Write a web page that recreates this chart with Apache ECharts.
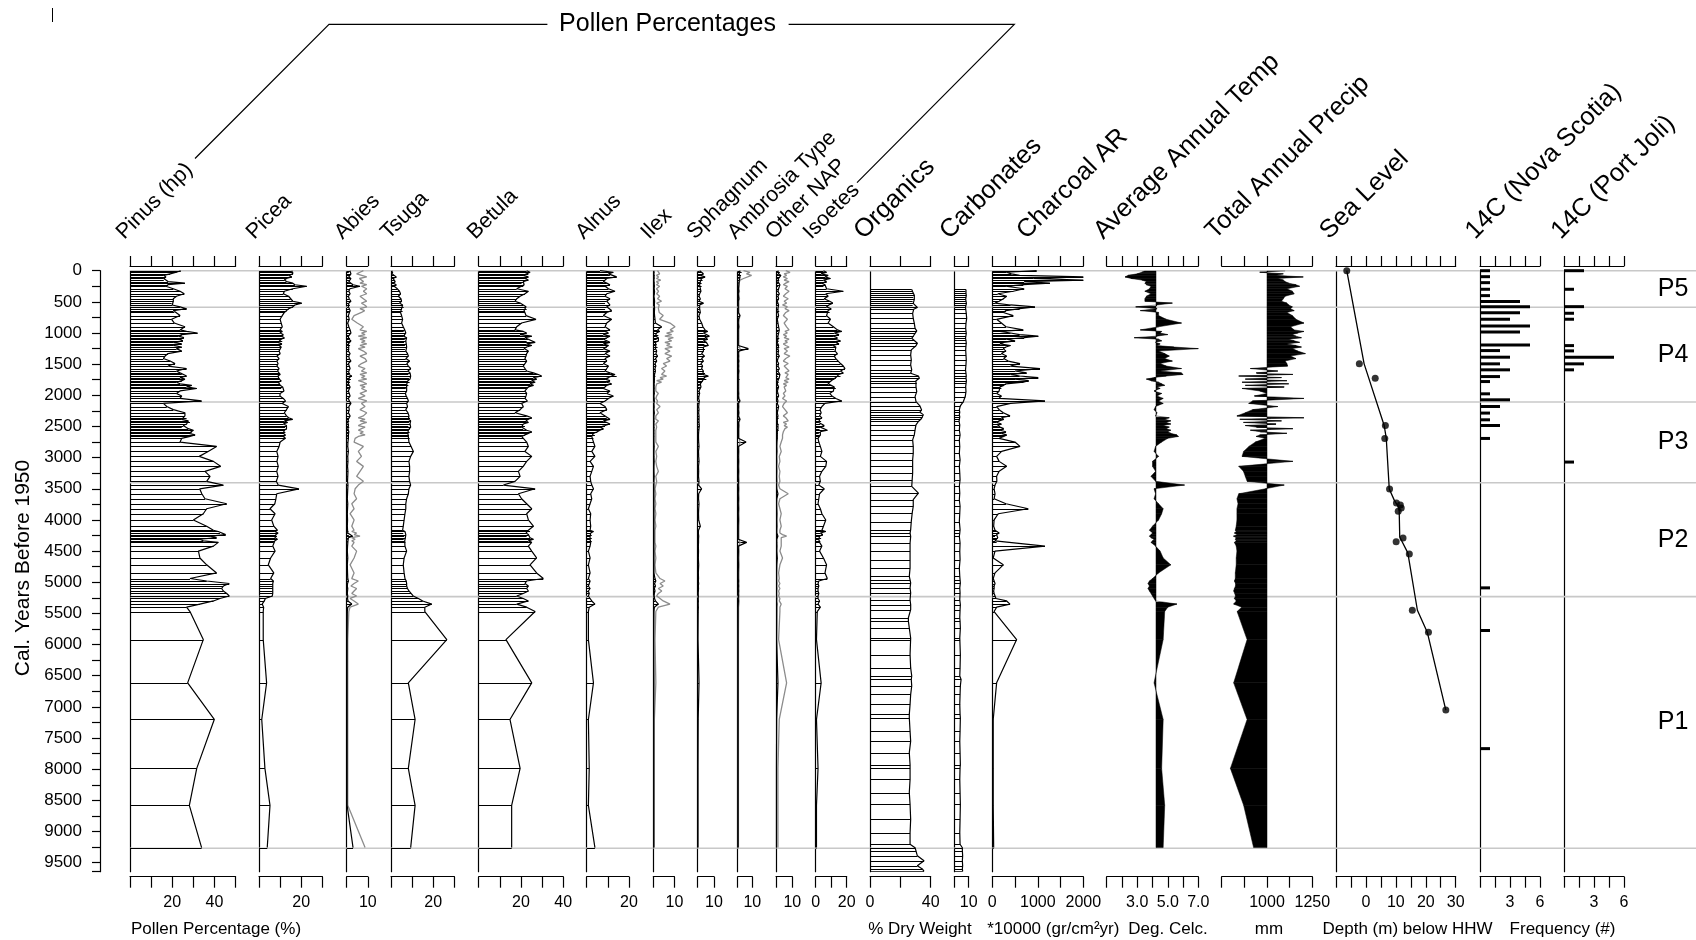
<!DOCTYPE html>
<html>
<head>
<meta charset="utf-8">
<title>Pollen, sediment and climate stratigraphy</title>
<script src="https://cdn.jsdelivr.net/npm/echarts@6/dist/echarts.min.js"></script>
<style>
  html, body { margin: 0; padding: 0; background: #ffffff; }
  #chart { width: 1696px; height: 940px; }
</style>
</head>
<body>
<div id="chart"></div>
<script>
// ---------------------------------------------------------------------------
// Sample ages (cal. years BP) shared by the pollen, charcoal and climate records
// ---------------------------------------------------------------------------
const ages = [
  0,25,50,75,100,125,150,175,200,225,250,
  290,330,370,410,450,490,520,550,580,610,640,670,
  720,780,840,900,
  950,975,1000,1025,1050,1075,1100,1125,1150,1175,1200,1225,1250,
  1290,1330,1370,1410,1450,1490,1530,1570,1610,
  1640,1665,1690,1715,1740,1765,1790,1815,1840,1865,1890,
  1930,1970,2010,2050,2090,2130,2180,2230,2280,2330,
  2360,2385,2410,2435,2460,2485,2510,2535,2560,2585,2610,2635,2660,2690,
  2750,2820,2900,2980,3060,3140,3220,3300,3380,3440,3500,3580,3660,3740,3820,3900,4000,4100,
  4165,4185,4210,4235,4260,4285,4310,4335,4360,
  4420,4500,4610,4720,4850,
  4940,4980,5020,5060,5100,5140,5180,5220,5260,5300,
  5350,5400,5470,
  5920,6614,7202,7987,8580,9258
];

// Pollen percentages
const pinus = [
  24,22,19,16,17,16,16,18,26,18,17,
  20.5,23.7,25.7,22,20.5,20.5,19.7,20,23.7,26.8,20.5,21,
  23.7,19.7,21,26,
  23.7,26.8,32,24.5,22.9,25.5,23.7,25,20.5,24.5,20.5,24.5,22,
  24.5,18,16.6,15.8,19,21.3,18,26.8,22,
  23.7,24.5,26.8,23.7,26,24.5,22,23.7,29.2,26.8,31.6,
  23.7,22,24.5,23.7,33.9,15.8,17.4,20.5,26,26,
  26.8,24.5,27.6,28.4,26.8,25.2,24.5,27.6,30,29.2,28,30.8,28.4,24.5,
  23.7,41,37,32.8,39.5,42.9,35.5,37.9,36.3,44.2,33,34,35.5,45.8,36.3,34.7,30,36.3,
  39.5,41.8,42.6,45.3,37.9,41,33.1,34.7,41.8,
  39.5,32.4,33.1,36.3,41,
  28.4,36.3,47,44.2,43.4,44.2,45.8,47,42.6,39.5,
  33.1,26.8,28.4,
  34.7,27.3,39.9,31.6,28.1,33.9
];
const picea = [
  15.5,16.2,16,14,15.5,13,12,13,16,17,22.6,
  16,12,11.5,14,15,16,20.2,17,16,14,13,12,
  11,10,10.5,11,
  10,11,9.9,11.5,10.5,12,10.5,11,9,10.8,9.5,10.5,10,
  9.5,10,8.5,9.5,8.4,9,8.5,9.5,8.8,
  9.5,10,9,9.8,9.5,10.5,9.2,10,10,11.2,10.5,
  11.8,10,9.9,11.5,12.5,11,13.9,13,12,13,
  14,15.9,12,13.5,11.5,13,12.3,13,12,12.5,11.5,12.5,11.5,12.5,
  10,9.5,8.4,9,8.5,9.1,8.4,9,8.2,9.1,18.9,8.4,8,7.5,5.2,7.6,6,7,
  8.7,7.5,9,8,8.5,7.6,8.7,7.5,7,
  6.5,7.6,5.5,4.4,7,
  5.5,6.8,6.5,6.5,6.5,6.5,6.5,6.3,3,2.5,
  1.5,2.2,2,
  2,3.6,1.3,2.8,5.2,3.9
];
const abies = [
  1.5,1,2,1.5,1,2,1.5,1,2,3,6.3,
  1.5,1,1.6,0.8,1.2,2,1,1.5,0.8,1.2,1.6,1,
  0.8,1.2,0.5,1,
  1.6,0.8,2,1.2,0.8,1.6,1,2,1.2,0.8,1.6,1,1.2,
  0.8,1.6,1,1.2,2,0.8,1.2,1.6,1,
  1.6,1,2.4,1.2,2,1,1.6,0.8,1.2,1.6,1,
  0.8,1.2,1.6,0.8,1.2,2,1,1.2,0.8,1.6,
  1,0.8,1.2,0.6,1,0.8,1.2,0.6,0.8,1,0.6,0.8,0.5,0.8,
  0.6,0.5,0.8,0.5,0.6,0.4,0.6,0.5,0.4,0.6,0.5,0.4,0.3,0.5,0.4,0.3,0.4,0.3,
  0.4,0.8,0.5,1,2.8,0.8,0.5,0.6,0.4,
  0.4,0.3,0.5,0.3,0.4,
  0.5,0.8,0.4,0.3,0.5,0.4,0.3,0.5,0.4,0.6,
  2.4,0.5,0.3,
  0.2,0.2,0.2,0.2,0.2,3
];
// exaggerated (grey) Abies curve
const abiesExag = [
  7.9,6.3,4.7,5.5,9.5,6,5.5,8,6.3,9.5,7,
  9.5,7.9,9.5,6.3,7.9,9.5,7,8.5,9.5,6.3,8.5,7,
  3.5,2.4,5,7.9,
  6.3,9.5,7,8.7,5.5,9.5,6.3,8.7,7,9.5,6.3,8.7,5.5,
  7.9,9.5,6.3,8.7,9.5,7,5.5,8.7,7,
  9.5,6.3,8.7,7,9.5,5.5,7.9,9.5,6.3,8.7,7,
  9.5,6.3,8.7,5.5,9.5,7,8.7,6.3,9.5,7.9,
  5.5,8.7,6.3,9.5,7,5.5,8.7,7,5.5,7.9,6.3,8.7,5.5,4,
  3.5,7.9,5.5,7,4.7,7.9,6.3,4.7,7.9,5.5,4,3.5,4.7,2.4,3.5,1.6,3.5,2.4,
  3.5,2.4,4.7,3.5,6.3,2.4,4,2.4,3.5,
  2.4,4.7,3.5,1.6,3.5,
  2.4,5.5,3.5,2,4.7,3.5,2.4,4.7,1.6,3.5,
  5.5,1.6,1,
  0.5,0.5,0.5,0.5,0.5,8.7
];
const tsuga = [
  0.5,1,0.5,1.5,2.5,1,1.5,2,1,2.5,1.5,
  3,4,4.5,3.5,4.7,5,4,5.5,6,5,5.5,4.5,
  5,5.5,5,5.8,
  6.5,6,7,6.6,6,7.4,6.5,7,6.2,7.2,6.6,7.4,6.6,
  7,7.8,8.2,7,8.8,7.5,8.2,9.3,8,
  9,8.2,9.3,8.5,9,8,8.8,7.5,8.2,7.4,7,
  7.4,6.8,7.2,7.8,8.2,7.4,7.8,7,8,8.5,
  9,8.2,9.3,8.5,9,8.2,9.3,8.8,8.2,8.8,8,8.5,8.2,8.8,
  8.5,9.5,10.6,9.3,8.5,8.8,8.8,8.5,8.8,9.3,8.5,8.2,7.4,7,7,6.6,6.2,5.8,
  5.5,6.6,5.8,7,6.2,6.8,6,6.5,6.8,
  6.6,7.4,6.2,5.8,6.2,
  6.6,7.2,7.4,7.4,7.8,8.5,9.5,10.5,13,15,
  19.3,16,16,
  26.4,8.2,11.4,8.2,11.4,9.3
];
const betula = [
  22.7,24.3,23.5,21.1,23.5,21.9,23.5,21.1,20.3,21.5,21.1,
  18,23.5,21.9,19.6,18,17.2,19.6,21.1,22.4,22.7,21.5,21.9,
  22.4,27.1,20.3,18,
  17.2,21.1,22.7,19.6,25.1,21.9,23.5,22.7,26.7,22.7,25.1,22.7,21.5,
  23.5,22.7,22.4,21.9,22.7,21.9,21.1,21.9,22.7,
  25.9,28.2,29.8,25.9,27.4,25.1,26.7,24.3,25.9,23.5,22.7,
  21.9,22.7,22.4,21.9,23,20.3,21.1,19.6,17.2,22.7,
  25.1,23.5,22.4,23.5,21.1,21.9,20.3,21.1,22.7,25.1,23.5,21.9,20.3,21.1,
  22.7,23.5,21.9,25.1,22.7,21.1,18.8,19.6,17.2,11.7,26.7,18.8,20.3,22.7,25.1,22.7,23.5,25.9,
  23.5,24.3,22.4,23.5,22.7,24.3,25.9,23.5,25.1,
  23.5,25.1,27.4,24.3,27.4,
  30.6,22.7,21.9,23.5,22.7,23.5,21.1,18,21.1,23.5,
  18,22.7,26.7,
  12.9,25.1,14.8,19.6,15.6,15.6
];
const alnus = [
  6.3,12.6,10.3,11,14.2,9.5,8.7,7.9,9.5,11,8.7,
  10.3,13.4,9.5,8.7,11,9.5,8.7,11,9.5,8.7,11.8,9.5,
  7.9,11.8,9.5,8.7,
  11,8.7,10.3,7.9,11,9.5,7.9,9.5,11,7.9,10.3,9.5,8,
  11,8.7,11,8.7,9.5,7.9,10.3,9.5,8.7,
  11,13.4,14.2,10.3,8.7,11,9.5,11.8,9.5,8.7,7.9,
  11,9.5,12.6,10.3,8.7,6.3,8.7,9.5,6.3,8.7,
  9.5,11,7.9,9.5,11,8.7,6.3,7.9,6.3,5,3.2,3.9,2.4,3.2,
  3.2,3.9,2.4,3.9,1.6,3.2,2.4,1.6,1.9,2.4,3.2,1.9,2.4,1.6,0.8,1.9,1.6,1.9,
  1.6,3.2,1.9,2.4,1.6,2.4,1.6,2.4,1.9,
  1.6,0.8,1.6,0.8,1.6,
  0.8,1.6,1.2,0.8,1.6,0.8,1.2,0.8,1.6,2.4,
  3.9,1.2,0.8,
  0.8,3.2,0.8,1.2,0.8,3.9
];
const ilex = [
  0.3,0.5,0.3,0.6,0.4,0.5,0.3,0.5,0.4,0.6,0.5,
  0.4,0.6,0.5,0.3,0.5,0.6,0.4,0.5,0.3,0.6,0.4,0.5,
  0.6,0.8,1,3.9,
  2,3,1.5,2.4,1,2.4,1.6,2.4,1,1.6,1.2,2,1,
  1.6,1.2,2,1,1.6,0.8,1.2,0.8,1,
  0.8,0.6,1,0.5,0.8,0.5,0.6,0.4,0.5,0.4,0.5,
  0.4,0.5,0.3,0.4,0.5,0.3,0.4,0.3,0.5,0.3,
  0.4,0.3,0.5,0.3,0.4,0.3,0.5,0.3,0.4,0.3,0.4,0.3,0.4,0.3,
  0.3,0.4,0.3,0.3,0.4,0.3,0.3,0.4,0.3,0.3,0.3,0.3,0.3,0.3,0.3,0.3,0.3,0.3,
  0.3,0.3,0.3,0.3,0.3,0.3,0.3,0.3,0.3,
  0.3,0.3,0.3,0.3,0.3,
  0.8,1.2,0.6,1,0.5,0.8,0.5,0.4,0.6,1,
  2.4,0.5,0.3,
  0.2,0.3,0.2,0.2,0.2,0.2
];
// exaggerated (grey) Ilex curve
const ilexExag = [
  2,1.5,3,1.5,2.5,1.5,3.5,1.5,2.5,1.5,3,
  1.5,2.5,1.6,3,2,3.9,1.6,2.8,3.5,2.4,1.6,2.8,
  4.7,3,7.9,10.3,
  8,9.5,6.3,8.7,5.5,9.5,7,8.7,5.5,7.9,6.3,9,5.5,
  7.9,5.5,8.7,6.3,7.9,4.7,6.3,3.9,5.5,
  5.5,3.9,6.3,3.2,4.7,1.6,3.9,1.6,2.4,1.2,1.6,
  1.2,2.4,1.6,1.2,2,1.6,3.2,1.6,2.4,1.2,
  1.6,1.2,2.4,1.6,1.2,2,1.6,2.4,1.2,1.6,1.2,2,1.2,1.6,
  1.2,2.4,1.2,1.6,1.2,1.6,2.4,1.2,1.6,1.2,0.8,1.2,0.8,1.2,0.8,1.2,0.8,1.2,
  0.8,1.2,0.8,1.2,0.8,1.2,0.8,1.2,0.8,
  1.2,0.8,1.2,0.8,1.2,
  3.2,5.5,3.2,4.7,2.4,4,2.4,1.6,3.2,4.7,
  7.9,2.4,1.2,
  0.8,1.2,0.5,0.5,0.5,0.5
];
const sphagnum = [
  1.2,2.4,3.5,1.6,4.5,2.4,3,1.6,2.4,1.2,2.4,
  1.6,2,1.2,0.8,1.6,0.8,3.5,1.2,0.8,1.2,0.8,1.6,
  0.8,1.2,2.4,3.2,
  4.5,6.1,3.5,5.3,7.1,4.5,6.1,3.5,5.3,4.1,6.5,3.5,4.5,
  3.5,2.4,4.1,2.4,3.5,2,3,2.4,3.5,
  4.5,3,6.5,4.1,5.3,3,2.4,1.6,1.2,2,1.2,
  0.8,1.2,0.8,0.6,1,0.8,0.6,0.8,0.6,0.8,
  0.6,0.8,0.5,0.8,0.6,1,0.6,0.8,0.5,0.6,0.8,0.5,0.6,0.5,
  0.6,0.8,0.5,0.6,0.8,0.5,0.6,0.5,0.8,0.6,2.4,0.6,0.5,0.8,0.6,0.5,0.6,1.6,
  0.5,0.6,0.4,0.5,0.6,0.4,0.5,0.4,0.5,
  0.4,0.5,0.4,0.6,0.4,
  0.5,0.4,0.6,0.4,0.5,0.4,0.3,0.4,0.3,0.4,
  0.3,0.4,0.3,
  0.2,0.8,0.3,0.2,0.2,0.2
];
const ambrosia = [
  1.6,2.7,1.1,2.3,1.6,0.7,1.1,0.7,0.9,0.5,0.7,
  0.5,0.7,0.4,0.5,0.7,0.4,0.5,0.4,0.6,0.4,0.5,0.4,
  1.5,0.5,0.4,0.6,
  0.4,0.6,0.4,0.5,0.4,0.6,0.4,0.5,0.4,0.6,0.4,0.5,7.3,
  0.6,0.4,0.5,0.4,0.6,0.4,0.5,0.4,0.6,
  0.5,0.4,0.6,0.4,1.5,0.4,0.5,0.4,0.6,0.4,0.5,
  0.4,0.5,0.4,0.6,1.5,0.4,0.5,0.4,0.6,0.4,
  0.5,1.5,0.4,0.5,0.4,0.6,0.4,0.5,0.4,0.5,0.4,0.5,0.4,0.5,
  5.7,0.4,0.5,0.4,0.5,0.4,0.5,0.4,0.5,0.4,0.5,0.4,0.5,0.4,0.5,0.4,0.5,0.4,
  0.4,0.5,0.4,0.5,0.4,0.5,0.4,0.5,6.1,
  0.4,0.5,0.4,0.5,0.4,
  0.4,0.5,0.4,0.5,0.4,0.5,0.4,0.5,0.4,0.5,
  0.4,0.3,0.3,
  0.3,0.3,0.3,0.3,0.3,0.3
];
// exaggerated (grey) Ambrosia curve
const ambrosiaExag = [
  4,8.4,6,9.5,9.5,4,1.6,1.1,0.9,1.2,0.9,
  0.9,1.2,0.8,1,1.2,0.8,1,0.8,1.1,0.8,1,0.8,
  1.6,1,0.8,1.1,
  0.8,1.1,0.8,1,0.8,1.1,0.8,1,0.8,1.1,0.8,1,1.6,
  1.1,0.8,1,0.8,1.1,0.8,1,0.8,1.1,
  1,0.8,1.1,0.8,1.6,0.8,1,0.8,1.1,0.8,1,
  0.8,1,0.8,1.1,1.6,0.8,1,0.8,1.1,0.8,
  1,1.6,0.8,1,0.8,1.1,0.8,1,0.8,1,0.8,1,0.8,1,
  1.6,0.8,1,0.8,1,0.8,1,0.8,1,0.8,1,0.8,1,0.8,1,0.8,1,0.8,
  0.8,1,0.8,1,0.8,1,0.8,1,1.6,
  0.8,1,0.8,1,0.8,
  0.8,1,0.8,1,0.8,1,0.8,1,0.8,1,
  0.8,0.6,0.6,
  0.5,0.5,0.5,0.5,0.5,0.5
];
const otherNap = [
  1.2,2.4,1.6,3,2.4,1.6,2,1.2,1.6,2.4,1.2,
  1.6,1.2,2,1.2,1.6,0.8,1.2,1.6,0.8,1.2,2,1.2,
  1.6,0.8,1.2,1.6,
  2,1.2,1.6,0.8,1.2,2,1.2,1.6,0.8,1.2,1.6,2,1.2,
  1.6,1.2,2,1.2,0.8,1.6,1.2,2,1.2,
  1.6,2.4,1.2,2,1.6,1.2,1.6,0.8,1.2,1.6,1.2,
  0.8,1.2,1.6,0.8,1.2,0.8,1.6,1.2,0.8,1.2,
  1.6,0.8,1.2,0.8,1.6,1.2,0.8,1.2,1.6,0.8,1.2,0.8,0.6,0.8,
  0.6,0.5,0.6,0.4,0.5,0.4,0.5,0.4,0.5,0.4,0.5,1.2,0.5,0.4,0.5,0.6,0.5,0.6,
  0.5,0.6,0.5,0.8,1.2,0.6,0.5,0.6,0.5,
  0.6,0.5,0.8,0.5,0.4,
  0.4,0.4,0.5,0.4,0.5,0.4,0.4,0.4,0.5,0.4,
  0.6,0.5,0.5,
  0.4,1.2,0.4,0.3,0.3,0.3
];
// exaggerated (grey) Other NAP curve
const otherNapExag = [
  6,8.6,5,6.5,4.5,7,5,8,6,4.5,7,
  5.5,8,6,4.5,7.5,5,6.5,4,7,5.5,8,6,
  4.5,7,5,6.5,
  8,5.5,7,4.5,6.5,5,8,5.5,7,4.5,6,8,5,
  7,5,8.5,6,4.5,7.5,5,6.5,8,
  5.5,7.5,8.6,6,8,5,7.5,4.5,6.5,5,4,
  6,4.5,5.5,4,6.5,5,4,5.5,7,4.5,
  6,5,7.5,4.5,6.5,5,7,5.5,6.5,4.5,5.5,4,3.2,4,
  3.2,2.4,3.2,2,2.4,1.6,2.4,2,2.4,1.6,2.4,7.5,2.4,1.6,2.4,3.2,2.4,3.2,
  2.4,3.2,2.4,4,6.5,3.2,2.4,3.2,2.4,
  3.2,2.4,4,2.4,1.6,
  2,1.6,2.4,1.6,2.4,1.6,2,1.6,2.4,2,
  3.2,2.4,2.4,
  1.6,6.5,2,1.2,1.2,1.2
];
const isoetes = [
  5,7,3.5,8,6,9.5,5,7,4,6,5,
  7,17.8,6.5,8,5.5,9,11,8.5,7,10,8,9,
  7,9.5,8,11.4,
  14,16.8,12,15,11.4,14,12.5,16,13,15,11,13,12,
  12.5,14,12,13,14.5,16,17.8,18.9,16,
  17.8,15,16,13,12,10,9,8,10,12,13,
  11.4,9,10.5,13,16.8,6,4,2.8,3.5,2.5,
  4,2.5,3.5,2,3,5.5,3,2.5,7.5,3,2,3,2.5,1.5,
  2,3,4,3,7,6.5,4,2.5,3,2,5.5,2.5,2,1.5,3,4,6.5,5,
  4,6.5,3,4.5,2.5,3.5,2,3,2.5,
  4,2.5,5,7,6,
  7.5,2,1.5,2,1.5,1.5,2,1.5,1.5,2.5,
  1.5,3,1,
  0.5,3.5,0.5,1.5,0.5,0.5
];

// Charcoal accumulation rate (*10000 gr/cm2/yr)
const charcoal = [
  975,315,420,600,2000,900,2000,700,1267,681,300,
  700,461,120,315,242,150,60,400,938,600,300,242,
  461,95,200,300,
  681,170,400,600,1011,700,315,500,250,170,400,300,242,
  300,200,315,250,350,608,400,1048,500,
  755,400,600,1011,500,800,681,300,250,170,200,
  150,95,200,150,1158,400,95,150,242,388,
  200,250,150,95,200,120,170,250,170,300,200,315,250,150,
  498,608,205,95,150,315,150,95,100,60,40,60,40,300,791,130,40,30,
  60,95,150,95,60,120,95,60,95,
  1158,60,20,242,60,
  20,40,60,40,40,30,40,60,80,315,
  388,95,40,
  535,95,20,20,20,30
];

// Pollen-inferred climate
const temperature = [
  3.5,3.3,3.0,2.4,2.2,2.6,3.3,3.6,3.5,3.6,3.9,
  3.8,3.5,3.9,3.6,3.5,3.5,5.3,4.3,2.9,4.3,3.2,4.4,
  4.4,4.9,5.9,4.4,
  3.2,4.6,4.5,5.0,4.3,2.8,4.4,4.6,4.2,4.5,4.3,5.4,7.0,
  4.4,4.8,5.1,4.8,5.3,4.5,4.9,5.9,4.5,
  5.9,6.0,4.9,4.1,3.6,3.9,4.4,4.6,4.8,4.3,4.5,
  4.1,4.6,4.3,4.7,4.4,4.7,4.2,4.1,4.3,4.2,
  5.1,4.8,5.2,4.9,5.2,4.7,5.1,4.9,5.2,5.0,5.2,5.6,5.7,5.0,
  4.6,4.2,4.1,4.4,4.0,4.0,4.2,3.9,4.2,6.1,4.1,4.2,4.1,4.4,4.7,4.6,4.4,4.0,
  3.8,3.9,4.0,3.9,3.8,3.9,4.1,4.0,3.9,
  4.2,4.5,4.7,5.2,4.4,
  4.0,3.8,3.7,3.8,3.7,3.8,3.9,4.0,4.1,4.2,
  5.6,5.0,4.8,
  4.7,4.1,4.7,4.6,4.8,4.7
];
const temperatureBase = 4.23;
const precipitation = [
  1100,960,1090,1050,1200,1060,1090,1100,1120,1160,1180,
  1110,1140,1150,1100,1090,1080,1110,1120,1140,1130,1150,1110,
  1140,1160,1204,1130,
  1150,1204,1170,1140,1160,1190,1120,1150,1180,1110,1160,1190,1140,
  1170,1212,1130,1160,1100,1110,1114,908,1060,
  940,1143,844,1080,880,1110,862,1120,880,1095,862,
  960,1000,930,1204,920,899,1060,920,880,834,
  1204,850,1080,870,1050,880,940,1143,908,963,1110,960,940,990,
  936,900,871,862,1143,844,870,880,890,1095,991,844,834,840,834,834,834,830,
  825,830,820,835,815,830,825,830,820,
  830,834,830,830,825,
  825,820,826,826,820,816,822,826,820,830,
  816,860,835,
  890,816,890,798,871,926
];
const precipitationBase = 1000;

// Loss-on-ignition record (its own sample ages)
const lossAges = [
  300,330,360,395,425,460,490,525,555,590,
  620,685,765,845,925,965,1005,1040,1085,1120,
  1165,1205,1270,1350,1430,1510,1590,1645,1690,1725,
  1765,1795,1860,1940,2020,2100,2170,2235,2270,2310,
  2345,2385,2420,2475,2555,2635,2715,2820,2930,3035,
  3140,3250,3355,3460,3570,3675,3780,3890,4025,4155,
  4210,4265,4370,4505,4635,4770,4905,4960,5010,5090,
  5170,5280,5360,5440,5570,5625,5735,5895,5920,6160,
  6375,6505,6560,6665,6800,6960,7120,7175,7390,7550,
  7735,7925,7975,8165,8375,8565,8805,9020,9205,9260,
  9310,9390,9470,9550,9600,9640
];
const organics = [
  27.5,28.1,28.5,29.2,28.5,29.2,28.1,28.5,28.1,31.2,
  28.8,28.1,28.5,29.2,29.7,30.8,29.7,28.8,27.5,29.2,
  31.2,30.3,27.2,26.8,27.2,26.8,27.5,26.8,31.9,32.5,
  30.3,30.8,30.3,30.8,29.7,30.3,32.9,34.0,32.9,35.1,
  34.5,33.5,31.9,30.3,29.7,29.2,28.1,28.5,28.5,28.1,
  28.1,28.1,27.8,27.5,31.9,28.5,28.5,27.8,27.2,26.8,
  26.4,26.8,26.4,26.4,26.4,26.4,25.9,26.4,26.8,26.4,
  26.8,26.4,26.8,26.8,25.3,25.3,25.9,26.8,26.8,26.4,
  26.8,27.5,27.2,27.5,26.8,26.4,25.9,25.9,26.4,26.8,
  25.9,26.4,26.4,26.4,25.9,26.4,26.8,26.4,26.4,29.7,
  30.3,31.2,35.6,31.2,34.5,35.6
];
const carbonates = [
  8.1,7.8,8.1,8.3,8.1,7.9,8.1,8.4,8.1,7.8,
  8.1,8.3,8.6,8.1,7.9,8.1,8.3,8.1,7.8,8.1,
  8.3,8.1,7.9,8.1,8.3,8.1,7.8,8.1,8.3,8.1,
  8.4,8.1,7.9,8.1,7.6,6.3,4.2,3.5,3.8,3.5,
  3.8,3.5,3.3,3.8,3.5,4.0,3.5,3.8,3.5,4.0,
  3.5,3.8,4.0,3.5,3.8,3.5,4.0,3.8,3.5,4.0,
  3.8,3.5,4.0,3.8,4.0,3.5,3.8,4.0,4.2,3.8,
  4.0,3.8,4.2,4.0,3.8,4.0,4.2,3.8,4.0,4.2,
  4.0,3.8,4.7,4.2,4.0,3.8,4.0,4.2,4.0,3.8,
  4.0,4.2,4.0,3.8,4.0,4.2,4.0,3.8,4.0,5.6,
  5.6,5.8,5.6,5.8,5.6,5.8
];

// Relative sea level (depth in m below higher high water)
const seaCurveAges  = [0, 1495, 2484, 2692, 3503, 3686, 3808, 4273, 4529, 5449, 5801, 7051];
const seaCurveDepth = [-6.4, -0.6, 6.1, 6.8, 7.8, 9.5, 11.1, 11.3, 14.0, 17.2, 20.5, 26.7];
const seaIndexAges  = [0, 1495, 1725, 2483, 2692, 3503, 3728, 3760, 3808, 3862, 4289, 4348, 4545, 5449, 5801, 7051];
const seaIndexDepth = [-6.4, -2.2, 3.1, 6.5, 6.3, 7.9, 10.2, 11.5, 11.8, 10.8, 12.4, 10.1, 14.5, 15.5, 20.9, 26.7];

// Radiocarbon date frequencies
const novaScotiaAges  = [0,96,192,298,400,496,577,673,779,886,982,1191,1282,1388,1495,1591,1699,1779,1976,2072,2179,2285,2393,2484,2692,5090,5774,7670];
const novaScotiaCount = [1,1,1,1,1,4,5,4,3,5,4,5,2,3,2,3,2,1,1,3,2,1,1,2,1,1,1,1];
const portJoliAges  = [0,298,577,683,779,1202,1287,1388,1495,1591,3071];
const portJoliCount = [2,1,2,1,1,1,1,5,2,1,1];

// Pollen zones
const zoneBounds = [0, 587, 2107, 3402, 5231, 9268];
const zoneNames  = ['P5', 'P4', 'P3', 'P2', 'P1'];

// Axis tick labels
const ageTickLabels = [0,500,1000,1500,2000,2500,3000,3500,4000,4500,5000,5500,6000,6500,7000,7500,8000,8500,9000,9500];

// ---------------------------------------------------------------------------
// Layout
// ---------------------------------------------------------------------------
const FONT = "'Liberation Sans', Arial, Helvetica, sans-serif";
const BLACK = '#000000';
const GREY_CURVE = '#8c8c8c';
const ZONE_LINE = '#c8c8c8';
const PLOT_TOP = 270.7;
const PLOT_H = 601;
const AGE_MAX = 9645;

const grids = [], xAxes = [], yAxes = [], series = [];

function axisLineStyle(show) {
  return { show: show, onZero: false, lineStyle: { color: BLACK, width: 1.2 } };
}

// Age axis on the far left
(function addAgeAxis() {
  const g = grids.length;
  grids.push({ left: 100, width: 1, top: PLOT_TOP, height: PLOT_H, outerBoundsMode: 'none' });
  xAxes.push({ gridIndex: g, type: 'value', show: false, min: 0, max: 1 });
  yAxes.push({
    gridIndex: g, type: 'value', inverse: true, min: 0, max: AGE_MAX, interval: 250, position: 'left',
    axisLine: axisLineStyle(true),
    axisTick: { show: true, length: 8, lineStyle: { color: BLACK, width: 1.2 } },
    axisLabel: {
      show: true, margin: 18, fontSize: 17, fontFamily: FONT, color: BLACK,
      formatter: v => ageTickLabels.indexOf(v) >= 0 ? String(v) : ''
    },
    splitLine: { show: false }
  });
})();

function addPanel(p) {
  const g = grids.length;
  grids.push({ left: p.left, width: p.width, top: PLOT_TOP, height: PLOT_H, outerBoundsMode: 'none' });
  const fmt = v => p.labels.some(l => Math.abs(l - v) < 1e-9) ? (p.decimals ? v.toFixed(p.decimals) : String(v)) : '';
  const xi = xAxes.length;
  xAxes.push({
    gridIndex: g, type: 'value', position: 'bottom', offset: 5,
    min: p.min, max: p.max, interval: p.interval,
    axisLine: axisLineStyle(true),
    axisTick: { show: true, length: 11, lineStyle: { color: BLACK, width: 1.2 } },
    axisLabel: { show: true, margin: 18, fontSize: 16, fontFamily: FONT, color: BLACK, formatter: fmt, hideOverlap: false },
    splitLine: { show: false }
  });
  xAxes.push({
    gridIndex: g, type: 'value', position: 'top', offset: 4.7,
    min: p.min, max: p.max, interval: p.interval,
    axisLine: axisLineStyle(true),
    axisTick: { show: true, length: 10, lineStyle: { color: BLACK, width: 1.2 } },
    axisLabel: { show: false },
    splitLine: { show: false }
  });
  const yi = yAxes.length;
  yAxes.push({
    gridIndex: g, type: 'value', inverse: true, min: 0, max: AGE_MAX,
    axisLine: axisLineStyle(!p.noZeroLine),
    axisTick: { show: false }, axisLabel: { show: false }, splitLine: { show: false }
  });
  return { xi: xi, yi: yi };
}

function pairs(agesArr, vals) {
  return agesArr.map((a, i) => [vals[i], a]);
}

// one horizontal line per sample, from the panel base to the sample value
function sampleLines(ax, agesArr, vals, base) {
  return {
    type: 'custom', xAxisIndex: ax.xi, yAxisIndex: ax.yi, silent: true, z: 3, clip: true,
    data: pairs(agesArr, vals),
    renderItem: (params, api) => {
      const a = api.value(1);
      const p0 = api.coord([base, a]);
      const p1 = api.coord([api.value(0), a]);
      const y = Math.round(p0[1]) + 0.5;
      return { type: 'line', shape: { x1: p0[0], y1: y, x2: p1[0], y2: y }, style: { stroke: BLACK, lineWidth: 1 } };
    }
  };
}

function curve(ax, agesArr, vals, color, width, z) {
  return {
    type: 'line', xAxisIndex: ax.xi, yAxisIndex: ax.yi, data: pairs(agesArr, vals),
    symbol: 'none', showSymbol: false, silent: true, z: z, clip: true,
    lineStyle: { color: color, width: width }
  };
}

// solid silhouette between a baseline and the curve
function filledSilhouette(ax, agesArr, vals, base) {
  const data = [];
  for (let i = 1; i < agesArr.length; i++) data.push([vals[i - 1], agesArr[i - 1], vals[i], agesArr[i]]);
  return {
    type: 'custom', xAxisIndex: ax.xi, yAxisIndex: ax.yi, silent: true, z: 3, clip: true,
    dimensions: ['v0', 'a0', 'v1', 'a1'], encode: { x: [0, 2], y: [1, 3] },
    data: data,
    renderItem: (params, api) => {
      const a0 = api.value(1), a1 = api.value(3);
      return {
        type: 'polygon',
        shape: { points: [api.coord([base, a0]), api.coord([api.value(0), a0]), api.coord([api.value(2), a1]), api.coord([base, a1])] },
        style: { fill: BLACK, stroke: BLACK, lineWidth: 0.5 }
      };
    }
  };
}

function frequencyBars(ax, agesArr, counts) {
  return {
    type: 'custom', xAxisIndex: ax.xi, yAxisIndex: ax.yi, silent: true, z: 3, clip: false,
    data: pairs(agesArr, counts),
    renderItem: (params, api) => {
      const a = api.value(1);
      const p0 = api.coord([0, a]);
      const p1 = api.coord([api.value(0), a]);
      return { type: 'rect', shape: { x: p0[0], y: p0[1] - 1.5, width: p1[0] - p0[0], height: 3 }, style: { fill: BLACK } };
    }
  };
}

function pollenPanel(p, vals, exag) {
  const ax = addPanel(p);
  series.push(sampleLines(ax, ages, vals, 0));
  if (exag) series.push(curve(ax, ages, exag, GREY_CURVE, 1.3, 3));
  series.push(curve(ax, ages, vals, BLACK, 1.2, 4));
}

pollenPanel({ left: 130,   width: 105.6, min: 0, max: 50, interval: 10, labels: [20, 40] }, pinus);
pollenPanel({ left: 259,   width: 63.4,  min: 0, max: 30, interval: 10, labels: [20] }, picea);
pollenPanel({ left: 346.7, width: 21.1,  min: 0, max: 10, interval: 10, labels: [10] }, abies, abiesExag);
pollenPanel({ left: 391,   width: 63.4,  min: 0, max: 30, interval: 10, labels: [20] }, tsuga);
pollenPanel({ left: 478.7, width: 84.5,  min: 0, max: 40, interval: 10, labels: [20, 40] }, betula);
pollenPanel({ left: 586.7, width: 42.2,  min: 0, max: 20, interval: 10, labels: [20] }, alnus);
pollenPanel({ left: 653.3, width: 21.1,  min: 0, max: 10, interval: 10, labels: [10] }, ilex, ilexExag);
pollenPanel({ left: 697.7, width: 16.3,  min: 0, max: 10, interval: 10, labels: [10] }, sphagnum);
pollenPanel({ left: 737.7, width: 14.6,  min: 0, max: 10, interval: 10, labels: [10] }, ambrosia, ambrosiaExag);
pollenPanel({ left: 776,   width: 16.3,  min: 0, max: 10, interval: 10, labels: [10] }, otherNap, otherNapExag);
pollenPanel({ left: 815.7, width: 31,    min: 0, max: 20, interval: 10, labels: [0, 20] }, isoetes);

// Organics and carbonates (% dry weight)
(function () {
  const ax = addPanel({ left: 870, width: 60.7, min: 0, max: 40, interval: 20, labels: [0, 40] });
  series.push(sampleLines(ax, lossAges, organics, 0));
  series.push(curve(ax, lossAges, organics, BLACK, 1.2, 4));
  const bx = addPanel({ left: 954.3, width: 14.4, min: 0, max: 10, interval: 10, labels: [10] });
  series.push(sampleLines(bx, lossAges, carbonates, 0));
  series.push(curve(bx, lossAges, carbonates, BLACK, 1.2, 4));
})();

// Charcoal
(function () {
  const ax = addPanel({ left: 992.3, width: 91, min: 0, max: 2000, interval: 500, labels: [0, 1000, 2000] });
  series.push(sampleLines(ax, ages, charcoal, 0));
  series.push(curve(ax, ages, charcoal, BLACK, 1.2, 4));
})();

// Temperature and precipitation
(function () {
  const ax = addPanel({ left: 1106.7, width: 91.6, min: 1, max: 7, interval: 1, labels: [3, 5, 7], decimals: 1, noZeroLine: true });
  series.push(filledSilhouette(ax, ages, temperature, temperatureBase));
  const bx = addPanel({ left: 1221.7, width: 90.6, min: 750, max: 1250, interval: 125, labels: [1000, 1250], noZeroLine: true });
  series.push(filledSilhouette(bx, ages, precipitation, precipitationBase));
})();

// Sea level
(function () {
  const ax = addPanel({ left: 1336, width: 119.7, min: -10, max: 30, interval: 5, labels: [0, 10, 20, 30] });
  series.push(curve(ax, seaCurveAges, seaCurveDepth, BLACK, 1.3, 4));
  series.push({
    type: 'scatter', xAxisIndex: ax.xi, yAxisIndex: ax.yi, silent: true, z: 5,
    data: pairs(seaIndexAges, seaIndexDepth), symbol: 'circle', symbolSize: 7,
    itemStyle: { color: BLACK }
  });
})();

// Radiocarbon frequencies
(function () {
  const ax = addPanel({ left: 1480, width: 60, min: 0, max: 6, interval: 1.5, labels: [3, 6] });
  series.push(frequencyBars(ax, novaScotiaAges, novaScotiaCount));
  const bx = addPanel({ left: 1564, width: 60, min: 0, max: 6, interval: 1.5, labels: [3, 6] });
  series.push(frequencyBars(bx, portJoliAges, portJoliCount));
})();

// Zone boundaries and zone names across the whole diagram
(function () {
  const g = grids.length;
  grids.push({ left: 130, right: 0, top: PLOT_TOP, height: PLOT_H, outerBoundsMode: 'none' });
  const xi = xAxes.length;
  xAxes.push({ gridIndex: g, type: 'value', show: false, min: 0, max: 1 });
  const yi = yAxes.length;
  yAxes.push({ gridIndex: g, type: 'value', show: false, inverse: true, min: 0, max: AGE_MAX });
  series.push({
    type: 'custom', xAxisIndex: xi, yAxisIndex: yi, silent: true, z: 1, clip: false,
    data: zoneBounds.map(a => [0, a]),
    renderItem: (params, api) => {
      const p0 = api.coord([0, api.value(1)]);
      const p1 = api.coord([1, api.value(1)]);
      return { type: 'line', shape: { x1: p0[0], y1: p0[1], x2: p1[0], y2: p1[1] }, style: { stroke: ZONE_LINE, lineWidth: 1.6 } };
    }
  });
  series.push({
    type: 'custom', xAxisIndex: xi, yAxisIndex: yi, silent: true, z: 5, clip: false,
    data: zoneNames.map((n, i) => [0, (zoneBounds[i] + zoneBounds[i + 1]) / 2]),
    renderItem: (params, api) => {
      const p = api.coord([0, api.value(1)]);
      return {
        type: 'text', x: 1673, y: p[1],
        style: {
          text: zoneNames[params.dataIndex], fontSize: 25, fontFamily: FONT, fill: BLACK,
          align: 'center', verticalAlign: 'middle', textAlign: 'center', textVerticalAlign: 'middle'
        }
      };
    }
  });
})();

// ---------------------------------------------------------------------------
// Titles and annotations
// ---------------------------------------------------------------------------
// [title, x of the lower-left start, font size]
const panelTitles = [
  ['Pinus (hp)', 115, 21.5], ['Picea', 245, 21.5], ['Abies', 333.3, 21.5], ['Tsuga', 379.4, 21.5], ['Betula', 466, 21.5],
  ['Alnus', 574.5, 21.5], ['Ilex', 639.6, 21.5], ['Sphagnum', 685.6, 21.5], ['Ambrosia Type', 726.3, 21.5], ['Other NAP', 764.2, 21.5],
  ['Isoetes', 802, 21.5], ['Organics', 854.3, 25.5], ['Carbonates', 940, 25.5], ['Charcoal AR', 1017, 25.5],
  ['Average Annual Temp', 1094, 25.5], ['Total Annual Precip', 1205.7, 25.5], ['Sea Level', 1320, 25.5],
  ['14C (Nova Scotia)', 1465.7, 25.5], ['14C (Port Joli)', 1551.4, 25.5]
];
const unitTitles = [
  ['Pollen Percentage (%)', 216], ['% Dry Weight', 920], ['*10000 (gr/cm\u00B2yr)', 1053.3],
  ['Deg. Celc.', 1168], ['mm', 1269], ['Depth (m) below HHW', 1407.5], ['Frequency (#)', 1562.5]
];

function textStyle(text, size, align, valign) {
  return {
    text: text, fontSize: size, fontFamily: FONT, fill: BLACK,
    align: align, verticalAlign: valign, textAlign: align, textVerticalAlign: valign
  };
}

const graphics = [];
const TITLE_BASE_Y = 238;
panelTitles.forEach(([t, x, size]) => {
  const k = size / 25.5;
  graphics.push({ type: 'text', x: x + 9.5 + 4 * k, y: TITLE_BASE_Y + 2.3 + 4 * k, rotation: Math.PI / 4, silent: true,
    style: textStyle(t, size, 'left', 'bottom') });
});
unitTitles.forEach(([t, x]) => {
  graphics.push({ type: 'text', x: x, y: 929, silent: true, style: textStyle(t, 17, 'center', 'middle') });
});
graphics.push({ type: 'text', x: 23.5, y: 568, rotation: Math.PI / 2, silent: true,
  style: textStyle('Cal. Years Before 1950', 21, 'center', 'middle') });
graphics.push({ type: 'text', x: 667.5, y: 24.3, silent: true, style: textStyle('Pollen Percentages', 25, 'center', 'middle') });
graphics.push({ type: 'polyline', silent: true, shape: { points: [[195, 158.5], [329, 24.3], [547.4, 24.3]] },
  style: { stroke: BLACK, lineWidth: 1.2, fill: null } });
graphics.push({ type: 'polyline', silent: true, shape: { points: [[788.6, 24.3], [1014.3, 24.3], [857, 182.7]] },
  style: { stroke: BLACK, lineWidth: 1.2, fill: null } });
graphics.push({ type: 'line', silent: true, shape: { x1: 52.5, y1: 8, x2: 52.5, y2: 22 }, style: { stroke: BLACK, lineWidth: 1 } });

const chart = echarts.init(document.getElementById('chart'), null, { renderer: 'canvas' });
chart.setOption({
  animation: false,
  backgroundColor: '#ffffff',
  grid: grids,
  xAxis: xAxes,
  yAxis: yAxes,
  series: series,
  graphic: { elements: graphics }
});
</script>
</body>
</html>
